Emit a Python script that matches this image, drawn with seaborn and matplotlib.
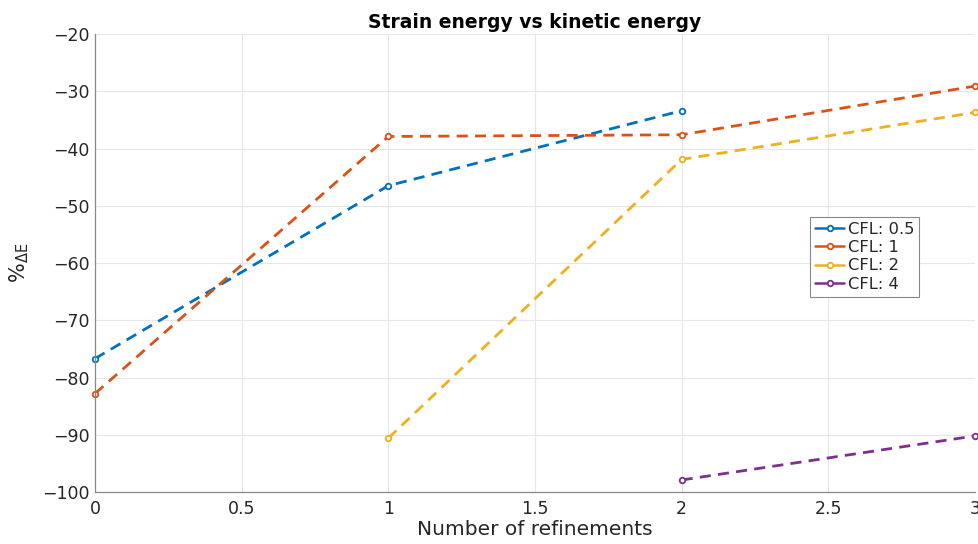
import matplotlib
matplotlib.use("Agg")
import matplotlib.pyplot as plt
import seaborn as sns
import pandas as pd

# Relative energy error per refinement level, for each CFL number
refinements_05 = [0, 1, 2]
delta_e_05 = [-76.7, -46.5, -33.4]

refinements_1 = [0, 1, 2, 3]
delta_e_1 = [-82.8, -37.9, -37.6, -29.1]

refinements_2 = [1, 2, 3]
delta_e_2 = [-90.6, -41.9, -33.7]

refinements_4 = [2, 3]
delta_e_4 = [-97.9, -90.2]

labels = ["CFL: 0.5", "CFL: 1", "CFL: 2", "CFL: 4"]
colors = ["#0072BD", "#D95319", "#EDB120", "#7E2F8E"]

x_ticks = [0, 0.5, 1, 1.5, 2, 2.5, 3]
y_ticks = [-100, -90, -80, -70, -60, -50, -40, -30, -20]

frames = []
for lab, xs, ys in zip(labels,
                       [refinements_05, refinements_1, refinements_2, refinements_4],
                       [delta_e_05, delta_e_1, delta_e_2, delta_e_4]):
    frames.append(pd.DataFrame({"refinements": xs, "delta_e": ys, "series": lab}))
df = pd.concat(frames, ignore_index=True)

sns.set_theme(style="white")
plt.rcParams["font.family"] = ["DejaVu Sans"]

fig = plt.figure(figsize=(9.79, 5.44), dpi=100)
ax = fig.add_axes([95 / 979, 1 - 492 / 544, 880 / 979, 458 / 544])

sns.lineplot(data=df, x="refinements", y="delta_e", hue="series",
             hue_order=labels, palette=colors, ax=ax,
             linewidth=2.0, marker="o", markersize=4,
             markerfacecolor="white", markeredgewidth=1.3,
             sort=False, errorbar=None)

# dashed lines with open markers in the line colour
for line in ax.lines:
    line.set_linestyle((0, (4, 2.6)))
    line.set_markeredgecolor(line.get_color())
    line.set_clip_on(False)

ax.set_xlim(0, 3)
ax.set_ylim(-100, -20)
ax.set_xticks(x_ticks)
ax.set_xticklabels(["0", "0.5", "1", "1.5", "2", "2.5", "3"])
ax.set_yticks(y_ticks)
ax.grid(True, color="#e6e6e6", linewidth=0.8)
ax.set_axisbelow(True)

for side in ["top", "right"]:
    ax.spines[side].set_visible(False)
for side in ["left", "bottom"]:
    ax.spines[side].set_color("#888888")
    ax.spines[side].set_linewidth(0.9)

ax.tick_params(axis="both", direction="in", length=5, width=0.8, color="#888888",
               labelsize=12.5, labelcolor="#262626", pad=4)
ax.tick_params(axis="x", pad=6)

ax.set_xlabel("Number of refinements", fontsize=14.5, color="#262626", labelpad=1)
ax.set_ylabel(r"%$_{\mathregular{\Delta E}}$", fontsize=15, color="#262626", labelpad=8)
ax.set_title("Strain energy vs kinetic energy", fontsize=13.5, fontweight="bold",
             color="black", pad=4)

handles, _ = ax.get_legend_handles_labels()
leg = ax.legend(handles, labels, loc="upper left",
                bbox_to_anchor=(715 / 880, (492 - 217) / 458),
                fontsize=11.8, frameon=True, fancybox=False, framealpha=1,
                edgecolor="#888888", handlelength=1.8, handletextpad=0.2,
                borderpad=0.3, labelspacing=0.2, borderaxespad=0)
leg.get_frame().set_linewidth(0.8)
for h in leg.get_lines():
    h.set_linewidth(1.8)
    h.set_linestyle("-")
    h.set_markeredgecolor(h.get_color())
    h.set_markerfacecolor("white")

fig.savefig("out.png", dpi=100)
